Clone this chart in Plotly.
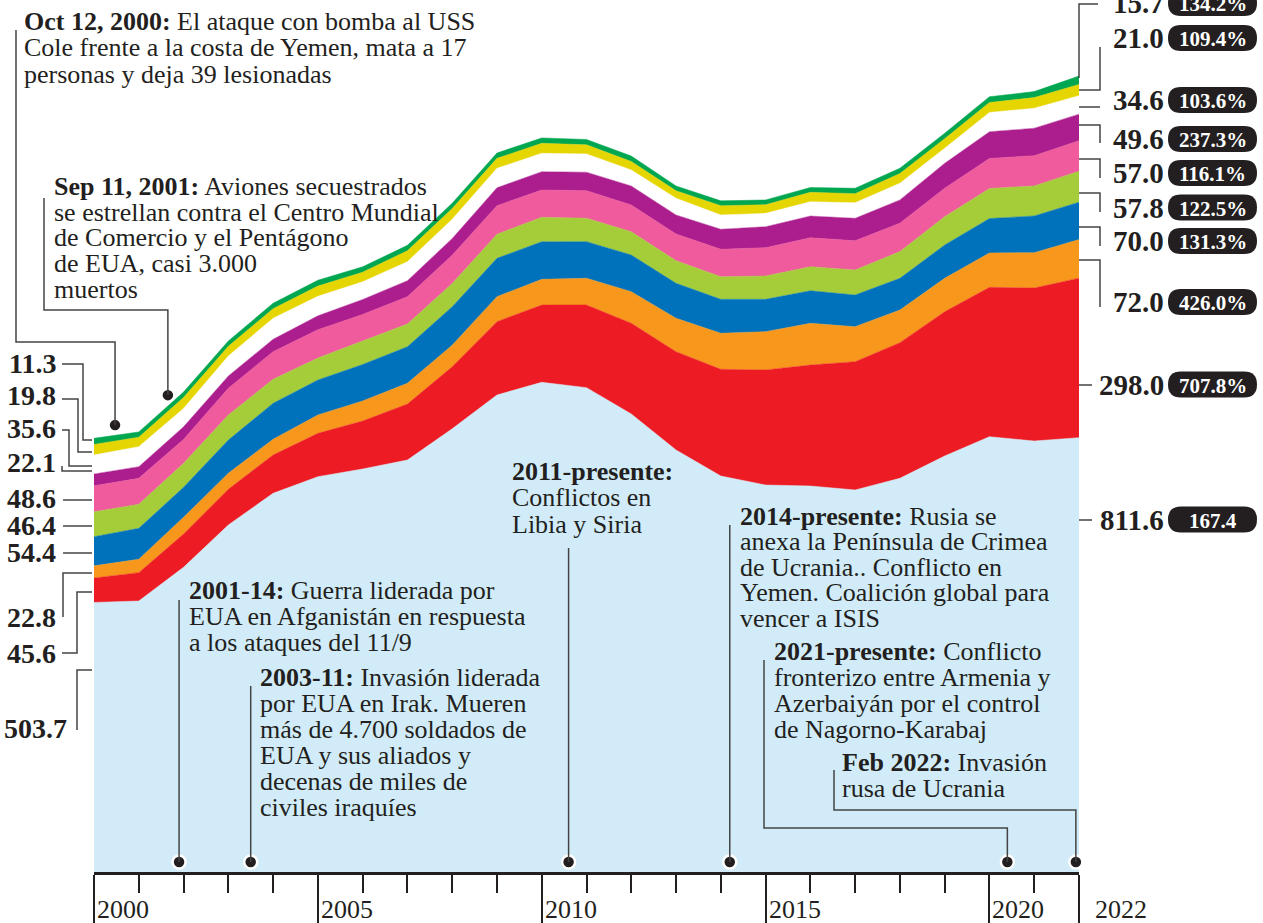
import plotly.graph_objects as go

# ---------------- data ----------------
years = list(range(2000, 2023))

usa = [503.7, 506.4, 569.3, 648.4, 707.6, 738.6, 753.0, 769.8, 828.0, 891.3, 915.0, 905.0,
       855.8, 788.5, 739.9, 723.1, 721.2, 713.8, 735.6, 777.3, 813.3, 805.3, 811.6]
red = [45.6, 52.9, 62.2, 66.7, 71.6, 81.1, 89.7, 104.6, 116.0, 137.0, 144.4, 154.5,
       169.5, 183.7, 199.4, 214.9, 226.1, 239.7, 253.4, 269.6, 279.1, 285.9, 298.0]
orange = [22.8, 25.0, 31.2, 29.9, 29.3, 34.2, 37.4, 38.7, 40.4, 46.7, 48.0, 49.9,
          59.0, 62.4, 67.3, 71.6, 77.9, 65.4, 61.1, 62.4, 64.3, 66.0, 72.0]
blue = [54.4, 57.9, 56.0, 62.2, 67.3, 65.4, 68.2, 68.4, 71.7, 71.7, 70.3, 68.4,
        68.6, 65.4, 63.5, 60.5, 60.9, 59.2, 59.2, 62.2, 64.3, 68.6, 70.0]
lgreen = [46.4, 44.8, 44.8, 46.7, 44.8, 41.0, 43.9, 42.4, 43.5, 44.8, 45.6, 43.7,
          43.5, 42.2, 42.2, 43.5, 44.8, 46.7, 49.9, 52.9, 56.1, 56.1, 57.8]
pink = [48.6, 48.6, 44.8, 49.9, 51.6, 52.9, 49.5, 51.0, 53.0, 53.4, 51.0, 51.6,
        49.9, 49.9, 51.2, 52.9, 54.2, 54.7, 53.1, 53.1, 56.1, 56.6, 57.0]
purple = [22.1, 21.7, 23.5, 23.0, 23.2, 26.0, 28.0, 29.9, 31.0, 33.6, 34.2, 34.4,
          35.5, 35.5, 37.4, 39.2, 40.5, 41.9, 43.5, 46.7, 49.9, 51.2, 49.6]
white = [35.6, 37.4, 34.4, 37.4, 39.2, 36.5, 33.0, 35.5, 36.0, 36.2, 34.4, 34.2,
         29.9, 31.2, 26.7, 25.0, 26.7, 29.1, 31.2, 28.0, 36.1, 37.4, 34.6]
yellow = [19.8, 17.6, 20.6, 18.0, 18.0, 19.0, 18.0, 20.6, 20.0, 18.7, 18.7, 17.0,
          16.0, 14.0, 17.4, 16.0, 17.6, 17.0, 18.0, 18.0, 18.7, 19.8, 21.0]
green = [11.3, 10.0, 10.0, 10.0, 10.0, 11.0, 10.0, 10.0, 10.0, 10.0, 10.0, 10.0,
         10.0, 9.0, 9.0, 9.0, 9.0, 10.0, 10.0, 10.0, 10.6, 11.2, 15.7]

series = [usa, red, orange, blue, lgreen, pink, purple, white, yellow, green]
colors = ['#d1ecf8', '#ed1c24', '#f7981d', '#0072bc', '#a5cd39',
          '#ef5b9c', '#ac1e8e', '#ffffff', '#e5d500', '#00a650']

left_labels = ['11.3', '19.8', '35.6', '22.1', '48.6', '46.4', '54.4', '22.8', '45.6', '503.7']
right_values = ['15.7', '21.0', '34.6', '49.6', '57.0', '57.8', '70.0', '72.0', '298.0', '811.6']
right_changes = ['134.2%', '109.4%', '103.6%', '237.3%', '116.1%', '122.5%', '131.3%',
                 '426.0%', '707.8%', '167.4']

major_ticks = [2000, 2005, 2010, 2015, 2020, 2022]

# event markers (year position, value)
ev_years = [2000.47, 2001.65, 2001.9, 2003.5, 2010.6, 2014.2, 2020.4, 2021.93]
ev_vals = [835, 891, 18.7, 18.7, 18.7, 18.7, 18.7, 18.7]

# ---------------- geometry helpers ----------------
W, H = 1263, 923
PL, PR, PT, PB = 94, 1079, 0, 872
YMAX = 872 / 0.5352
INK = '#231f20'
FONT = 'Liberation Serif'


def px(x):
    return (x - PL) / (PR - PL)


def py(y):
    return (PB - y) / (PB - PT)


def yr2px(yr):
    return PL + (yr - 2000) * (PR - PL) / 22


fig = go.Figure()
for vals, col in zip(series, colors):
    fig.add_trace(go.Scatter(x=years, y=vals, stackgroup='one', mode='lines',
                             line=dict(width=0.5, color=col), fillcolor=col,
                             hoverinfo='skip'))

fig.add_trace(go.Scatter(x=ev_years, y=ev_vals, mode='markers', cliponaxis=False,
                         marker=dict(size=13, color=INK, line=dict(color='white', width=2.5)),
                         hoverinfo='skip'))

shapes = []
annotations = []


def poly(points, color='#444444', width=1.5):
    d = 'M ' + ' L '.join(f'{px(x):.5f},{py(y):.5f}' for x, y in points)
    shapes.append(dict(type='path', xref='paper', yref='paper', path=d,
                       line=dict(color=color, width=width), layer='above'))


def pill(xl, xr, yc, h=26):
    r = h / 2
    t, b = yc - r, yc + r
    pts = [('M', xl + r, t), ('L', xr - r, t), ('Q', xr, t, xr, yc), ('Q', xr, b, xr - r, b),
           ('L', xl + r, b), ('Q', xl, b, xl, yc), ('Q', xl, t, xl + r, t)]
    d = ''
    for p in pts:
        cmd = p[0]
        coords = p[1:]
        cs = ' '.join(f'{px(coords[i]):.5f},{py(coords[i + 1]):.5f}' for i in range(0, len(coords), 2))
        d += f'{cmd} {cs} '
    d += 'Z'
    shapes.append(dict(type='path', xref='paper', yref='paper', path=d,
                       fillcolor=INK, line=dict(width=0), layer='above'))


def text(x, y, s, size=26, anchor='left', color=INK, bold=False):
    if bold:
        s = f'<b>{s}</b>'
    annotations.append(dict(xref='paper', yref='paper', x=px(x), y=py(y), text=s,
                            showarrow=False, xanchor=anchor, yanchor='middle',
                            font=dict(family=FONT, size=size, color=color)))


def block(x, y0, lines, spacing=26):
    for i, ln in enumerate(lines):
        text(x, y0 + i * spacing, ln)


# ---------------- left labels ----------------
left_y = [363, 395, 428, 462, 498, 525, 552, 617, 653, 728]
left_x = [58, 58, 58, 58, 58, 58, 58, 58, 58, 69]
for lab, yy, xx in zip(left_labels, left_y, left_x):
    text(xx, yy, lab, size=28, anchor='right', bold=True)

left_conn = [
    [(62, 364), (83, 364), (83, 440), (92, 440)],
    [(62, 399), (78, 399), (78, 452), (92, 452)],
    [(62, 430), (69, 430), (69, 466), (92, 466)],
    [(62, 466), (62, 471), (92, 471)],
    [(63, 500), (92, 500)],
    [(63, 526), (92, 526)],
    [(63, 553), (92, 553)],
    [(63, 617), (63, 573), (92, 573)],
    [(62, 653), (77, 653), (77, 592), (92, 592)],
    [(77, 730), (77, 670), (92, 670)],
]
for c in left_conn:
    poly(c)

# ---------------- right labels ----------------
right_y = [3, 38, 100, 139, 173, 207.5, 241, 302, 384.5, 519.5]
for v, ch, yy in zip(right_values, right_changes, right_y):
    text(1166, yy, v, size=29, anchor='right', bold=True)
    pill(1168, 1257, yy)
    text(1212.5, yy + 1, ch, size=21, anchor='center', color='white', bold=True)

right_conn = [
    [(1079, 78), (1079, 4), (1098, 4)],
    [(1079, 90), (1100, 90), (1100, 47)],
    [(1079, 107), (1100, 107)],
    [(1079, 125), (1100, 125), (1100, 143)],
    [(1079, 159), (1100, 159), (1100, 178)],
    [(1079, 193), (1100, 193), (1100, 212)],
    [(1079, 227), (1100, 227), (1100, 246)],
    [(1079, 260), (1100, 260), (1100, 307)],
    [(1079, 385), (1092, 385)],
    [(1079, 520), (1092, 520)],
]
for c in right_conn:
    poly(c)

# ---------------- events ----------------
block(22, 21, ["<b>Oct 12, 2000:</b> El ataque con bomba al USS",
               "Cole frente a la costa de Yemen, mata a 17",
               "personas y deja 39 lesionadas"], 26.7)
block(52, 186, ["<b>Sep 11, 2001:</b> Aviones secuestrados",
                "se estrellan contra el Centro Mundial",
                "de Comercio y el Pentágono",
                "de EUA, casi 3.000",
                "muertos"], 26)
block(187, 590, ["<b>2001-14:</b> Guerra liderada por",
                 "EUA en Afganistán en respuesta",
                 "a los ataques del 11/9"], 26)
block(258, 677, ["<b>2003-11:</b> Invasión liderada",
                 "por EUA en Irak. Mueren",
                 "más de 4.700 soldados de",
                 "EUA y sus aliados y",
                 "decenas de miles de",
                 "civiles iraquíes"], 26)
block(510, 471, ["<b>2011-presente:</b>",
                 "Conflictos en",
                 "Libia y Siria"], 26.5)
block(738, 516, ["<b>2014-presente:</b> Rusia se",
                 "anexa la Península de Crimea",
                 "de Ucrania.. Conflicto en",
                 "Yemen. Coalición global para",
                 "vencer a ISIS"], 25.5)
block(772, 651, ["<b>2021-presente:</b> Conflicto",
                 "fronterizo entre Armenia y",
                 "Azerbaiyán por el control",
                 "de Nagorno-Karabaj"], 26)
block(840, 762, ["<b>Feb 2022:</b> Invasión",
                 "rusa de Ucrania"], 26)

exs = [yr2px(v) for v in ev_years]
poly([(16, 30), (16, 342), (exs[0], 342), (exs[0], 425)])
poly([(44, 198), (44, 310), (exs[1], 310), (exs[1], 395)])
poly([(exs[2], 600), (exs[2], 862)])
poly([(exs[3], 686), (exs[3], 862)])
poly([(exs[4], 548), (exs[4], 862)])
poly([(exs[5], 525), (exs[5], 862)])
poly([(764, 660), (764, 828), (exs[6], 828), (exs[6], 862)])
poly([(834, 770), (834, 810), (exs[7], 810), (exs[7], 862)])

# ---------------- year labels ----------------
for yv in major_ticks:
    annotations.append(dict(xref='x', yref='paper', x=yv, y=py(909), text=str(yv),
                            showarrow=False, xanchor='left', yanchor='middle',
                            xshift=14 if yv == 2022 else 1,
                            font=dict(family=FONT, size=26, color=INK)))

fig.update_layout(
    width=W, height=H,
    margin=dict(l=PL, r=W - PR, t=PT, b=H - PB),
    paper_bgcolor='white', plot_bgcolor='white',
    showlegend=False,
    xaxis=dict(range=[2000, 2022], showgrid=False, zeroline=False,
               showline=True, linecolor=INK, linewidth=3,
               ticks='outside', tickmode='array', tickvals=major_ticks,
               ticklen=50, tickwidth=1.5, tickcolor=INK, showticklabels=False,
               minor=dict(tickmode='array', tickvals=years, ticks='outside',
                          ticklen=18, tickwidth=1.5, tickcolor=INK, showgrid=False)),
    yaxis=dict(range=[0, YMAX], visible=False),
    shapes=shapes,
    annotations=annotations,
)

fig.write_html('out.html', config={'displayModeBar': False},
               post_script="document.body.style.margin='0';document.body.style.padding='0';"
                           "document.body.style.overflow='hidden';")
